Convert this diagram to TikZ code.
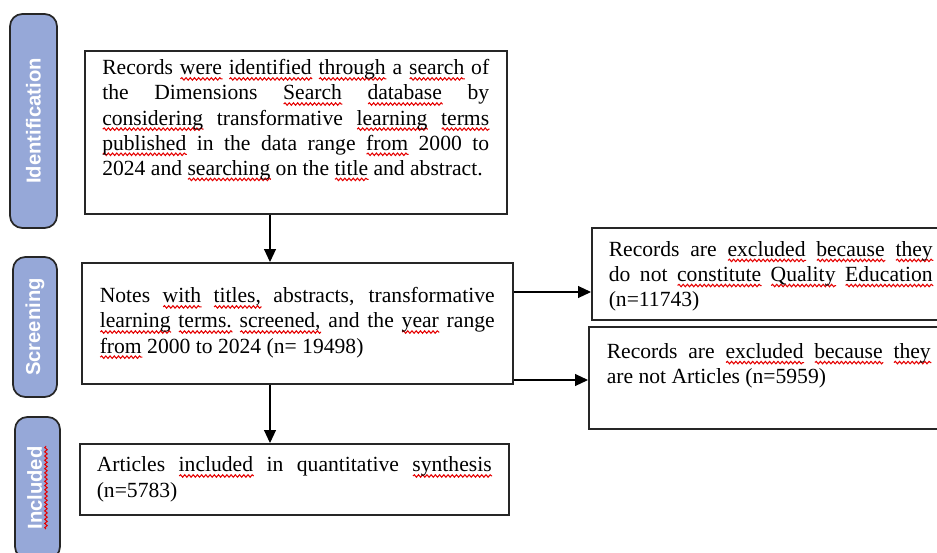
\documentclass[tikz,border=0pt]{standalone}
\usepackage{fontspec}
\setmainfont{Liberation Serif}
\newfontfamily\barfont{Liberation Sans}
\usetikzlibrary{arrows.meta,decorations.pathmorphing}
\definecolor{barblue}{RGB}{150,168,216}
\newsavebox\sqbox
% red wavy underline of the spell checker
\newcommand\sq[1]{\sbox\sqbox{#1}\leavevmode\rlap{\tikz[baseline=0pt,reset cm]
    \draw[red!90!black, sharp corners, line width=0.6pt, decorate, decoration={snake, amplitude=0.7pt, segment length=2.4pt}]
    (0pt,-2.3pt) -- (\the\wd\sqbox,-2.3pt);}\usebox\sqbox}

\begin{document}
\begin{tikzpicture}[x=0.02cm,y=-0.02cm,
    stagebar/.style={draw=black!85, line width=1pt, fill=barblue, rounded corners=7pt,
        text=white, inner sep=0pt,
        font=\barfont\bfseries\fontsize{11.5}{13}\selectfont},
    flowbox/.style={draw=black!85, line width=0.9pt, anchor=north west, align=justify,
        inner ysep=0pt, font=\fontsize{12.3}{14.3}\selectfont},
    flowarrow/.style={line width=0.6pt, -{Triangle[length=0.26cm,width=0.24cm]}}]
    \useasboundingbox (0,0) rectangle (937,552);
    \clip (0,0) rectangle (937,552);
    % Phasen links:
    \node[stagebar, minimum width=0.94cm, minimum height=4.28cm] (idbar) at (33.5,121) {\rotatebox{90}{Identification}};
    \node[stagebar, minimum width=0.88cm, minimum height=2.8cm] (scrbar) at (35,327) {\rotatebox{90}{Screening}};
    \node[stagebar, minimum width=0.9cm, minimum height=2.84cm] (incbar) at (37.5,488) {\rotatebox{90}{\sq{Included}}};
    % Kaesten Mitte:
    \node[flowbox, minimum width=8.44cm, minimum height=3.26cm, text width=7.74cm] (search) at (84,50)
        {Records \sq{were} \sq{identified} \sq{through} a \sq{search} of\linebreak
         the Dimensions \sq{Search} \sq{database} by\linebreak
         \sq{considering} transformative \sq{learning} \sq{terms}\linebreak
         \sq{published} in the data range \sq{from} 2000 to\linebreak
         2024 and \sq{searching} on the \sq{title} and abstract.\par\rule{0pt}{0.44cm}};
    \node[flowbox, minimum width=8.62cm, minimum height=2.42cm, text width=7.9cm] (notes) at (81,262)
        {Notes \sq{with} \sq{titles,} abstracts, transformative\linebreak
         \sq{learning} \sq{terms.} \sq{screened,} and the \sq{year} range\linebreak
         \sq{from} 2000 to 2024 (n= 19498)};
    \node[flowbox, minimum width=8.58cm, minimum height=1.42cm, text width=7.9cm] (articles) at (79,443)
        {Articles \sq{included} in quantitative \sq{synthesis}\linebreak
         (n=5783)};
    % Kaesten rechts:
    \node[flowbox, inner xsep=0.34cm, minimum height=1.84cm, text width=6.48cm] (nonqe) at (591,227)
        {\rule{0pt}{0.4cm}Records are \sq{excluded} \sq{because} \sq{they}\linebreak
         do not \sq{constitute} \sq{Quality} \sq{Education}\linebreak
         (n=11743)};
    \node[flowbox, inner xsep=0.36cm, minimum height=2.04cm, text width=6.48cm] (nonart) at (588,326)
        {Records are \sq{excluded} \sq{because} \sq{they}\linebreak
         are not Articles (n=5959)\par\rule{0pt}{0.44cm}};
    % Pfeile:
    \coordinate (spine) at (270,0);
    \coordinate (exitA) at (0,292);
    \coordinate (exitB) at (0,380);
    \draw[flowarrow] (search.south -| spine) -- (notes.north -| spine);
    \draw[flowarrow] (notes.south -| spine) -- (articles.north -| spine);
    \draw[flowarrow] (notes.east |- exitA) -- (nonqe.west |- exitA);
    \draw[flowarrow] (notes.east |- exitB) -- (nonart.west |- exitB);
\end{tikzpicture}
\end{document}
